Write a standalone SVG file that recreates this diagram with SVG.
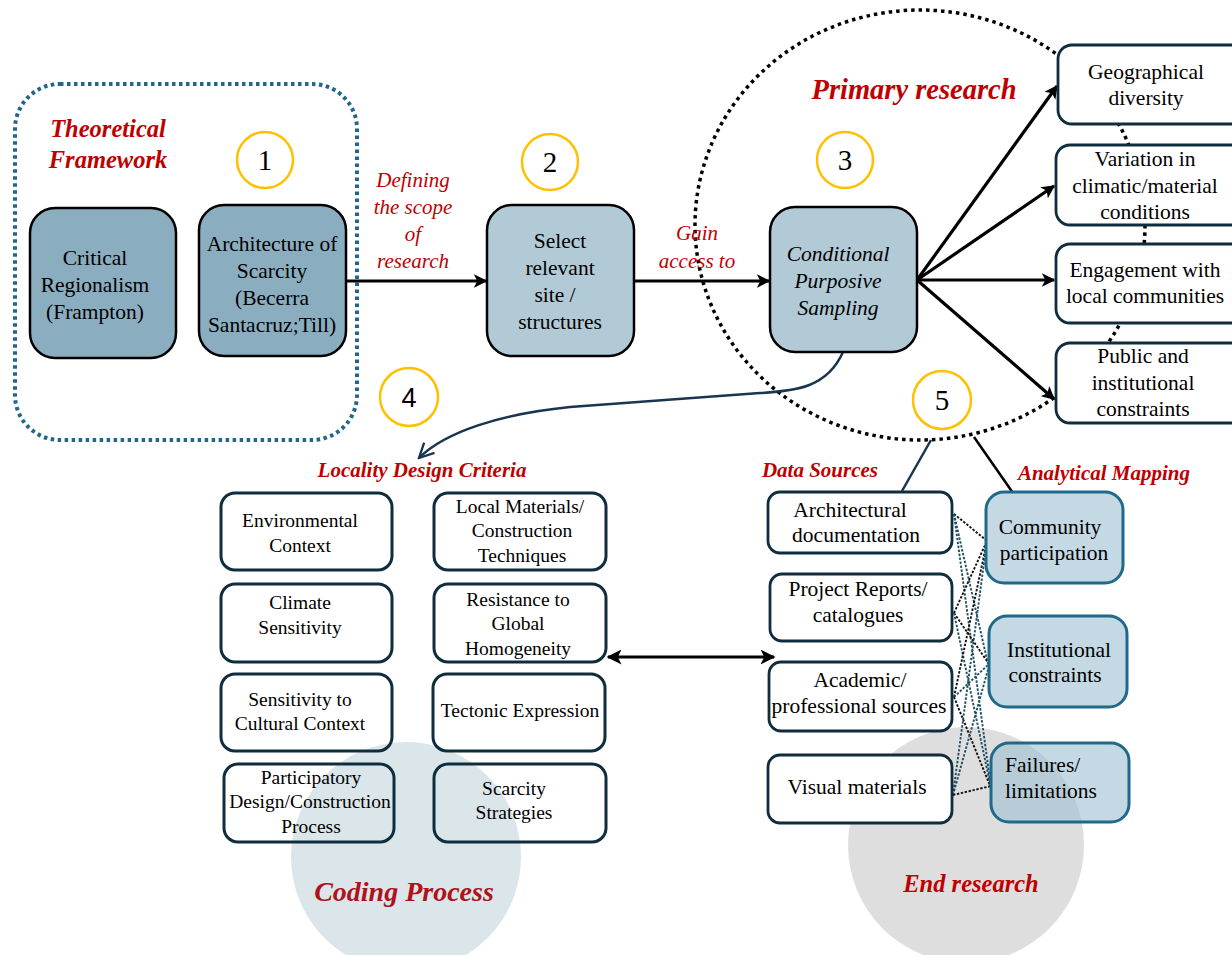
<svg xmlns="http://www.w3.org/2000/svg" width="1232" height="955" viewBox="0 0 1232 955">
  <style>
    text { font-family: "Liberation Serif", "Times New Roman", serif; fill: #000; text-anchor: middle; }
    .lbl { font-size: 21.5px; }
    .sm { font-size: 19.5px; }
    .it { font-style: italic; }
    .red { fill: #c00000; font-weight: bold; font-style: italic; }
    .redi { fill: #c00000; font-style: italic; font-size: 21px; }
    .num { font-size: 29px; }
    .badge { fill: none; stroke: #ffc000; stroke-width: 2.5; }
    .dark { fill: #8aaec0; stroke: #000; stroke-width: 2.5; }
    .light { fill: #b1cad6; stroke: #000; stroke-width: 2.5; }
    .wbox { fill: #fff; stroke: #0f2d3d; stroke-width: 2.8; }
    .obox { fill: none; stroke: #0f2d3d; stroke-width: 3; }
    .abox { fill: #9dbfd2; fill-opacity: 0.6; stroke: #1f6a8a; stroke-width: 3; }
    .arrow { fill: none; stroke: #000; stroke-width: 3.2; marker-end: url(#ah); }
    .thin-k { fill: none; stroke: #111; stroke-width: 1.9; stroke-dasharray: 2.4 1.6; }
    .thin-t { fill: none; stroke: #1f4f66; stroke-width: 1.9; stroke-dasharray: 2.4 1.6; }
  </style>
  <defs>
    <marker id="ah" viewBox="0 0 10 10" refX="9" refY="5" markerWidth="4.2" markerHeight="4.2" orient="auto" markerUnits="strokeWidth">
      <path d="M0,0 L10,5 L0,10 L2.5,5 Z" fill="#000"/>
    </marker>
    <marker id="ah2" viewBox="0 0 10 10" refX="9" refY="5" markerWidth="5" markerHeight="5" orient="auto-start-reverse" markerUnits="strokeWidth">
      <path d="M0,0 L10,5 L0,10 L2.5,5 Z" fill="#000"/>
    </marker>
    <marker id="vh" viewBox="0 0 12 12" refX="11" refY="6" markerWidth="7" markerHeight="7" orient="auto" markerUnits="strokeWidth">
      <path d="M1,1 L11,6 L1,11" fill="none" stroke="#1a3550" stroke-width="1.6"/>
    </marker>
  </defs>

  <rect width="1232" height="955" fill="#fff"/>

  <!-- background zones -->
  <g id="zones">
    <circle cx="406" cy="857" r="115" fill="#dbe6eb"/>
    <circle cx="966" cy="845" r="118" fill="#dedede"/>
    <ellipse id="primary-ring" cx="920" cy="225" rx="225" ry="215" fill="none" stroke="#000" stroke-width="3.5" stroke-dasharray="3.5 4"/>
    <rect id="framework-ring" x="15" y="84" width="342" height="356" rx="45" fill="none" stroke="#22678a" stroke-width="4" stroke-dasharray="3.5 3.5"/>
  </g>

  <!-- section labels -->
  <g id="labels">
    <text class="red" font-size="24.5" x="108" y="137">Theoretical</text>
    <text class="red" font-size="24.5" x="108" y="168">Framework</text>
    <text class="redi" x="413" y="187">Defining</text>
    <text class="redi" x="413" y="214">the scope</text>
    <text class="redi" x="413" y="241">of</text>
    <text class="redi" x="413" y="268">research</text>
    <text class="redi" x="697" y="240">Gain</text>
    <text class="redi" x="697" y="268">access to</text>
    <text class="red" font-size="28.5" x="914" y="99">Primary research</text>
    <text class="red" font-size="21" x="422" y="477">Locality Design Criteria</text>
    <text class="red" font-size="21" x="820" y="477">Data Sources</text>
    <text class="red" font-size="21" x="1104" y="480">Analytical Mapping</text>
    <text class="red" font-size="28" x="404" y="901" style="fill:#b0121b">Coding Process</text>
    <text class="red" font-size="24.5" x="971" y="892">End research</text>
  </g>

  <!-- step badges -->
  <g id="badges">
    <g id="badge-1"><circle class="badge" cx="265" cy="160" r="28"/><text class="num" x="265" y="170">1</text></g>
    <g id="badge-2"><circle class="badge" cx="550" cy="162" r="28"/><text class="num" x="550" y="172">2</text></g>
    <g id="badge-3"><circle class="badge" cx="845" cy="160" r="28"/><text class="num" x="845" y="170">3</text></g>
    <g id="badge-4"><circle class="badge" cx="409" cy="397" r="29"/><text class="num" x="409" y="407" style="font-family:'Liberation Sans',Arial,sans-serif;font-size:27px">4</text></g>
    <g id="badge-5"><circle class="badge" cx="942" cy="400" r="29"/><text class="num" x="942" y="410">5</text></g>
  </g>

  <!-- connectors -->
  <g id="connectors">
    <path class="arrow" d="M346,281 L486,281"/>
    <path class="arrow" d="M634,281 L769,281"/>
    <path class="arrow" d="M917,280 L1057,86"/>
    <path class="arrow" d="M917,280 L1054,186"/>
    <path class="arrow" d="M917,280 L1054,280"/>
    <path class="arrow" d="M917,280 L1054,399"/>
    <path d="M843,352 C827,388 795,391 760,393 L570,407 C500,414 445,432 419,458" fill="none" stroke="#1a3550" stroke-width="2.5" marker-end="url(#vh)"/>
    <path d="M608,657 L774,657" fill="none" stroke="#000" stroke-width="3" marker-start="url(#ah2)" marker-end="url(#ah2)"/>
    <path d="M931,440 L902,491" fill="none" stroke="#1a3550" stroke-width="2.5"/>
    <path d="M974,437 L1013,493" fill="none" stroke="#000" stroke-width="2.5"/>
    <!-- source to mapping links -->
    <path class="thin-k" d="M954,514 L986,540"/>
    <path class="thin-t" d="M954,514 L988,664"/>
    <path class="thin-t" d="M954,514 L991,788"/>
    <path class="thin-k" d="M954,613 L986,543"/>
    <path class="thin-k" d="M954,613 L989,664"/>
    <path class="thin-t" d="M954,613 L991,788"/>
    <path class="thin-k" d="M954,697 L986,546"/>
    <path class="thin-t" d="M954,697 L989,664"/>
    <path class="thin-k" d="M954,697 L991,788"/>
    <path class="thin-t" d="M953,795 L986,548"/>
    <path class="thin-t" d="M953,795 L989,666"/>
    <path class="thin-k" d="M953,795 L991,786"/>
  </g>

  <!-- theory and method nodes -->
  <g id="critical-regionalism">
    <rect class="dark" x="30" y="208" width="146" height="150" rx="25"/>
    <text class="lbl" x="95" y="265">Critical</text>
    <text class="lbl" x="95" y="292">Regionalism</text>
    <text class="lbl" x="95" y="319">(Frampton)</text>
  </g>
  <g id="architecture-of-scarcity">
    <rect class="dark" x="199" y="205" width="147" height="151" rx="25"/>
    <text class="lbl" x="272" y="251">Architecture of</text>
    <text class="lbl" x="272" y="278">Scarcity</text>
    <text class="lbl" x="272" y="305">(Becerra</text>
    <text class="lbl" x="272" y="332">Santacruz;Till)</text>
  </g>
  <g id="select-site">
    <rect class="light" x="487" y="205" width="147" height="151" rx="25"/>
    <text class="lbl" x="560" y="248">Select</text>
    <text class="lbl" x="560" y="275">relevant</text>
    <text class="lbl" x="555" y="302">site /</text>
    <text class="lbl" x="560" y="329">structures</text>
  </g>
  <g id="purposive-sampling">
    <rect class="light" x="770" y="207" width="147" height="145" rx="25"/>
    <text class="lbl it" x="838" y="261">Conditional</text>
    <text class="lbl it" x="838" y="288">Purposive</text>
    <text class="lbl it" x="838" y="315">Sampling</text>
  </g>

  <!-- sampling criteria -->
  <g id="geographical-diversity">
    <rect class="wbox" x="1058" y="45" width="190" height="79" rx="14"/>
    <text class="lbl" x="1146" y="79">Geographical</text>
    <text class="lbl" x="1146" y="105">diversity</text>
  </g>
  <g id="climatic-variation">
    <rect class="wbox" x="1056" y="145" width="192" height="80" rx="14"/>
    <text class="lbl" x="1145" y="166">Variation in</text>
    <text class="lbl" x="1145" y="193">climatic/material</text>
    <text class="lbl" x="1145" y="219">conditions</text>
  </g>
  <g id="community-engagement">
    <rect class="wbox" x="1056" y="244" width="192" height="79" rx="14"/>
    <text class="lbl" x="1145" y="277">Engagement with</text>
    <text class="lbl" x="1145" y="303">local communities</text>
  </g>
  <g id="public-constraints">
    <rect class="wbox" x="1056" y="343" width="192" height="80" rx="14"/>
    <text class="lbl" x="1143" y="363">Public and</text>
    <text class="lbl" x="1143" y="390">institutional</text>
    <text class="lbl" x="1143" y="416">constraints</text>
  </g>

  <!-- locality design criteria -->
  <g id="environmental-context">
    <rect class="obox" x="221" y="493" width="171" height="77" rx="14"/>
    <text class="sm" x="300" y="527">Environmental</text>
    <text class="sm" x="300" y="552">Context</text>
  </g>
  <g id="climate-sensitivity">
    <rect class="obox" x="221" y="584" width="171" height="78" rx="14"/>
    <text class="sm" x="300" y="609">Climate</text>
    <text class="sm" x="300" y="634">Sensitivity</text>
  </g>
  <g id="cultural-context">
    <rect class="obox" x="221" y="674" width="171" height="77" rx="14"/>
    <text class="sm" x="300" y="706">Sensitivity to</text>
    <text class="sm" x="300" y="730">Cultural Context</text>
  </g>
  <g id="participatory-process">
    <rect class="obox" x="224" y="764" width="170" height="78" rx="14"/>
    <text class="sm" x="311" y="784">Participatory</text>
    <text class="sm" x="310" y="808">Design/Construction</text>
    <text class="sm" x="311" y="833">Process</text>
  </g>
  <g id="local-materials">
    <rect class="obox" x="434" y="493" width="172" height="77" rx="14"/>
    <text class="sm" x="520" y="513">Local Materials/</text>
    <text class="sm" x="522" y="537">Construction</text>
    <text class="sm" x="522" y="562">Techniques</text>
  </g>
  <g id="global-homogeneity">
    <rect class="obox" x="434" y="584" width="172" height="78" rx="14"/>
    <text class="sm" x="518" y="606">Resistance to</text>
    <text class="sm" x="518" y="630">Global</text>
    <text class="sm" x="518" y="655">Homogeneity</text>
  </g>
  <g id="tectonic-expression">
    <rect class="obox" x="433" y="674" width="172" height="77" rx="14"/>
    <text class="sm" x="520" y="717">Tectonic Expression</text>
  </g>
  <g id="scarcity-strategies">
    <rect class="obox" x="434" y="764" width="172" height="78" rx="14"/>
    <text class="sm" x="514" y="795">Scarcity</text>
    <text class="sm" x="514" y="819">Strategies</text>
  </g>

  <!-- data sources -->
  <g id="architectural-documentation">
    <rect class="wbox" x="768" y="492" width="184" height="61" rx="12"/>
    <text class="lbl" x="850" y="517">Architectural</text>
    <text class="lbl" x="856" y="542">documentation</text>
  </g>
  <g id="project-reports">
    <rect class="wbox" x="770" y="574" width="182" height="67" rx="12"/>
    <text class="lbl" x="858" y="596">Project Reports/</text>
    <text class="lbl" x="858" y="622">catalogues</text>
  </g>
  <g id="academic-sources">
    <rect class="wbox" x="769" y="662" width="183" height="69" rx="12"/>
    <text class="lbl" x="860" y="687">Academic/</text>
    <text class="lbl" x="859" y="713">professional sources</text>
  </g>
  <g id="visual-materials">
    <rect class="wbox" x="768" y="755" width="184" height="68" rx="12"/>
    <text class="lbl" x="857" y="794">Visual materials</text>
  </g>

  <!-- analytical mapping -->
  <g id="community-participation">
    <rect class="abox" x="986" y="492" width="137" height="91" rx="18"/>
    <text class="lbl" x="1050" y="534">Community</text>
    <text class="lbl" x="1054" y="560">participation</text>
  </g>
  <g id="institutional-constraints">
    <rect class="abox" x="989" y="616" width="138" height="91" rx="18"/>
    <text class="lbl" x="1059" y="657">Institutional</text>
    <text class="lbl" x="1055" y="682">constraints</text>
  </g>
  <g id="failures-limitations">
    <rect class="abox" x="991" y="743" width="138" height="79" rx="18"/>
    <text class="lbl" x="1005" y="772" style="text-anchor:start">Failures/</text>
    <text class="lbl" x="1005" y="798" style="text-anchor:start">limitations</text>
  </g>
</svg>
